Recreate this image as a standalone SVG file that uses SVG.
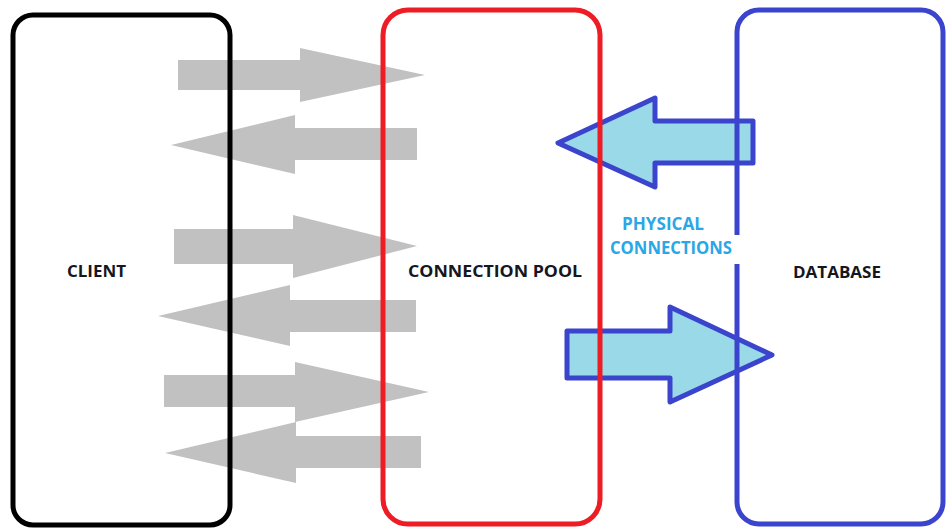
<svg xmlns="http://www.w3.org/2000/svg" width="947" height="529" viewBox="0 0 947 529">
  <style>
    .box { fill: none; stroke-width: 5; }
    .grey { fill: #c1c1c1; }
    .phys { fill: #9ad9e8; stroke: #3b44cc; stroke-width: 5; stroke-linejoin: round; }
    .lbl { font-family: "Open Sans", "Liberation Sans", sans-serif; font-weight: bold; font-size: 16.5px; fill: #16161e; }
    .plbl { font-family: "Open Sans", "Liberation Sans", sans-serif; font-weight: bold; font-size: 17px; fill: #2ba6e6; }
  </style>
  <rect width="947" height="529" fill="#ffffff"/>

  <!-- connectors: logical requests (grey) and physical connections (blue) -->
  <g id="connectors">
    <polygon class="grey" points="178,60 300,60 300,48 425,75 300,102 300,90 178,90"/>
    <polygon class="grey" points="417,128 295,128 295,115 171,145 295,174 295,160 417,160"/>
    <polygon class="grey" points="174,229 293,229 293,215 417,246 293,278 293,264 174,264"/>
    <polygon class="grey" points="416,300 290,300 290,285 158,316 290,346 290,332 416,332"/>
    <polygon class="grey" points="164,375 295,375 295,362 429,392 295,422 295,407 164,407"/>
    <polygon class="grey" points="421,436 296,436 296,422 165,453 296,483 296,468 421,468"/>
    <polygon class="phys" points="753,121 655,121 655,98 558,143 655,187 655,163 753,163"/>
    <polygon class="phys" points="567,331 670,331 670,307 772,355 670,402 670,378 567,378"/>
  </g>

  <g id="client">
    <rect class="box" x="13" y="15" width="217" height="510" rx="20" stroke="#000000"/>
    <text class="lbl" x="67" y="277" textLength="59" lengthAdjust="spacingAndGlyphs">CLIENT</text>
  </g>

  <g id="pool">
    <rect class="box" x="383" y="10" width="217" height="514" rx="25" stroke="#ee1c25"/>
    <text class="lbl" x="408" y="277" textLength="174" lengthAdjust="spacingAndGlyphs">CONNECTION POOL</text>
  </g>

  <g id="database">
    <rect class="box" x="737" y="10" width="206" height="514" rx="22" stroke="#3b44cc"/>
    <text class="lbl" x="793" y="278" textLength="88" lengthAdjust="spacingAndGlyphs">DATABASE</text>
  </g>

  <g id="physical-label">
    <rect x="603" y="235" width="138" height="29" fill="#ffffff"/>
    <text class="plbl" x="622" y="230" textLength="82" lengthAdjust="spacingAndGlyphs">PHYSICAL</text>
    <text class="plbl" x="610" y="254" textLength="122" lengthAdjust="spacingAndGlyphs">CONNECTIONS</text>
  </g>
</svg>
